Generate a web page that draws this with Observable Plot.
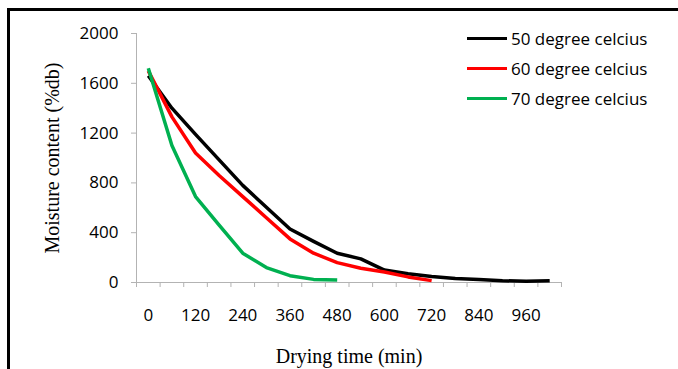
<!DOCTYPE html>
<html>
<head>
<meta charset="utf-8">
<script src="https://cdn.jsdelivr.net/npm/d3@7"></script>
<script src="https://cdn.jsdelivr.net/npm/@observablehq/plot@0.6"></script>
<style>
  html, body { margin: 0; padding: 0; background: #fff; }
  #wrap { position: relative; width: 678px; height: 369px; overflow: hidden; }
  #frame { position: absolute; left: 7px; top: 8px; width: 700px; height: 400px;
           border-left: 3px solid #000; border-top: 3px solid #000; pointer-events: none; }
  #legend { position: absolute; left: 467px; top: 23px; font-family: "Open Sans", sans-serif;
            font-size: 17px; color: #000; }
  #legend .row { display: flex; align-items: center; height: 30px; }
  #legend .sw { width: 40px; height: 3px; margin-right: 4px; }
  svg [aria-label="y-axis label"] text, svg [aria-label="x-axis label"] text {
    font-family: "Liberation Serif", serif; font-size: 20px;
  }
</style>
</head>
<body>
<div id="wrap"><div id="chart"></div><div id="legend"></div><div id="frame"></div></div>
<script>
const times = [0, 60, 120, 180, 240, 300, 360, 420, 480, 540, 600, 660, 720, 780, 840, 900, 960, 1020];
const m50 = [1660, 1400, 1190, 985, 780, 605, 430, 330, 235, 190, 100, 70, 48, 32, 25, 14, 10, 15];
const m60 = [1700, 1330, 1040, 860, 690, 520, 350, 235, 160, 115, 85, 45, 15];
const m70 = [1720, 1100, 690, 460, 235, 120, 55, 25, 20];
const seriesNames = ["50 degree celcius", "60 degree celcius", "70 degree celcius"];
const seriesColors = ["#000000", "#ff0000", "#00b050"];
const yTicks = [0, 400, 800, 1200, 1600, 2000];
const xTickLabels = [0, 120, 240, 360, 480, 600, 720, 840, 960];
const xTickMarks = d3.range(-30, 1051, 60);

const seriesValues = [m50, m60, m70];
const data = seriesValues.flatMap((vals, i) =>
  vals.map((v, j) => ({ t: times[j], m: v, s: seriesNames[i] })));

const gridColor = "#b3b3b3";

const chart = Plot.plot({
  width: 678,
  height: 369,
  marginLeft: 136,
  marginRight: 117,
  marginTop: 33,
  marginBottom: 87,
  style: { fontFamily: "'Open Sans', sans-serif", fontSize: "17px", color: "#000", background: "#fff" },
  x: { domain: [-30, 1050] },
  y: { domain: [0, 2000] },
  color: { domain: seriesNames, range: seriesColors },
  marks: [
    Plot.ruleX([-30], { y1: 0, y2: 2000, stroke: gridColor }),
    Plot.ruleY([0], { x1: -30, x2: 1050, stroke: gridColor }),
    Plot.axisY(yTicks, { tickSize: 5, tickPadding: 13, stroke: gridColor, fill: "#000",
      tickFormat: d => String(d),
      label: "Moisture content (%db)", labelAnchor: "center", labelOffset: 92, labelArrow: "none" }),
    Plot.axisX(xTickMarks, { tickSize: 5, tickFormat: () => "", stroke: gridColor, label: null }),
    Plot.axisX(xTickLabels, { tickSize: 0, tickPadding: 26, fill: "#000",
      tickFormat: d => String(d),
      label: "Drying time (min)", labelAnchor: "center", labelOffset: 80, labelArrow: "none" }),
    Plot.line(data, { x: "t", y: "m", z: "s", stroke: "s", strokeWidth: 3.5,
      strokeLinejoin: "round", strokeLinecap: "butt" })
  ]
});
document.getElementById("chart").appendChild(chart);

const legend = document.getElementById("legend");
seriesNames.forEach((name, i) => {
  const row = document.createElement("div");
  row.className = "row";
  const sw = document.createElement("div");
  sw.className = "sw";
  sw.style.background = seriesColors[i];
  const lab = document.createElement("span");
  lab.textContent = name;
  row.appendChild(sw);
  row.appendChild(lab);
  legend.appendChild(row);
});
</script>
</body>
</html>
